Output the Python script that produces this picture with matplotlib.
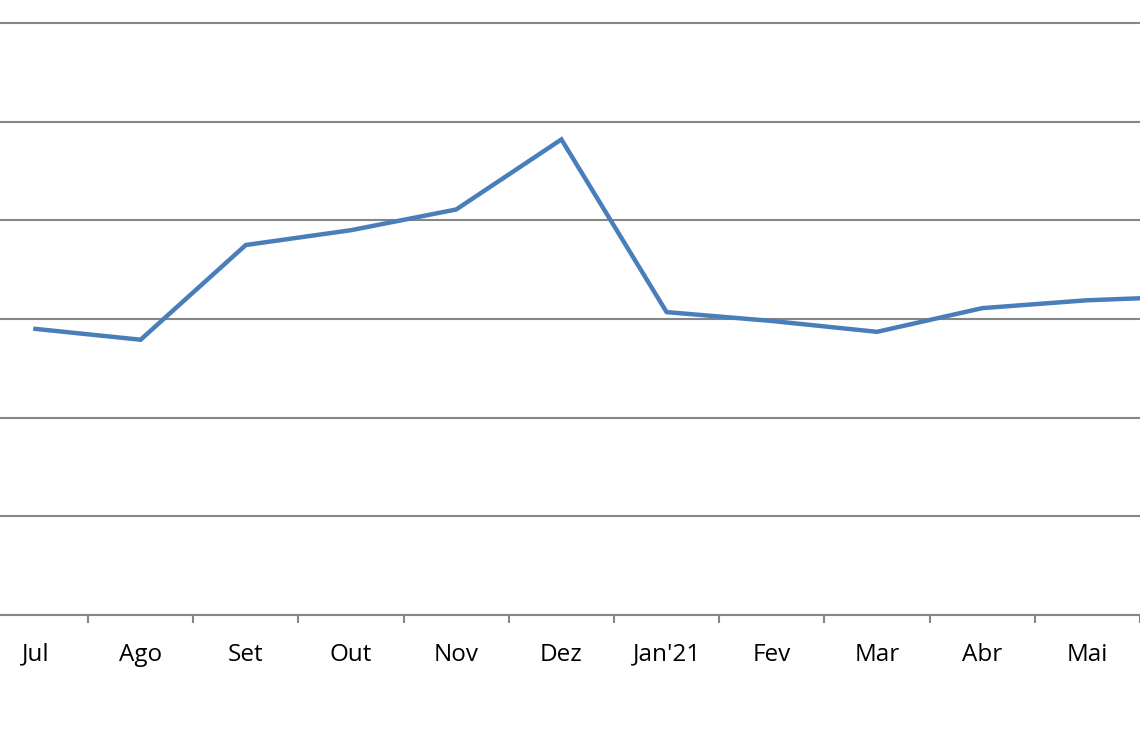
import matplotlib
matplotlib.use("Agg")
import matplotlib.pyplot as plt
import numpy as np

months = ["Jul", "Ago", "Set", "Out", "Nov", "Dez", "Jan'21", "Fev", "Mar", "Abr", "Mai", "Jun"]
values = [2.90, 2.79, 3.75, 3.90, 4.11, 4.82, 3.07, 2.98, 2.87, 3.11, 3.19, 3.23]

W, H = 1140, 742
fig = plt.figure(figsize=(W / 100, H / 100), dpi=100)

# plot area is cropped on both sides in the reference
step = 105.2
left_px = 88 - step
y_top = 6.05  # a little headroom so the top gridline is not clipped
ax = fig.add_axes([left_px / W, 127 / H, 12 * step / W, (615 - 23) * y_top / 6 / H])

grid_color = "#868686"
x = np.arange(len(months))
ax.plot(x, values, color="#4A7EBB", linewidth=3.2, solid_joinstyle="miter", zorder=3)

ax.set_xlim(-0.5, len(months) - 0.5)
ax.set_ylim(0, y_top)
ax.set_yticks(np.arange(0, 7, 1))
ax.yaxis.grid(True, color=grid_color, linewidth=1.5)
ax.tick_params(axis="y", left=False, labelleft=False)

ax.set_xticks(x)
labels = ax.set_xticklabels(months, fontsize=17.5, family="Open Sans")
labels[-1].set_visible(False)  # Jun falls outside the cropped picture
ax.set_xticks(np.arange(-0.5, len(months), 1), minor=True)
ax.tick_params(axis="x", which="major", length=0, pad=20)
ax.tick_params(axis="x", which="minor", length=6, width=1.5, color=grid_color, direction="out")

for side in ("top", "left", "right"):
    ax.spines[side].set_visible(False)
ax.spines["bottom"].set_color(grid_color)
ax.spines["bottom"].set_linewidth(1.5)

fig.savefig("out.png", dpi=100)
